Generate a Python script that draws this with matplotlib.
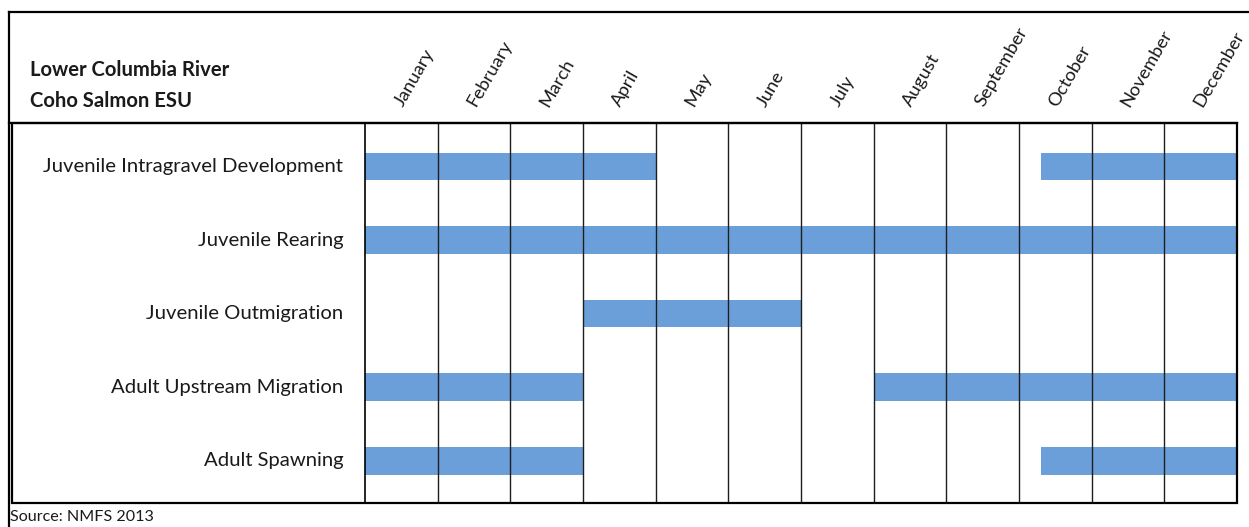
import matplotlib
matplotlib.use("Agg")
import matplotlib.pyplot as plt
from matplotlib.lines import Line2D
from matplotlib.patches import Rectangle

# ---------------- data ----------------
months = ["January", "February", "March", "April", "May", "June", "July",
          "August", "September", "October", "November", "December"]
stages = ["Juvenile Intragravel Development", "Juvenile Rearing",
          "Juvenile Outmigration", "Adult Upstream Migration", "Adult Spawning"]
# periods in month units (0 = start of January, 12 = end of December)
intragravel = [(0, 4), (9.3, 12)]
rearing = [(0, 12)]
outmigration = [(3, 6)]
upstream = [(0, 3), (7, 12)]
spawning = [(0, 3), (9.3, 12)]
periods = [intragravel, rearing, outmigration, upstream, spawning]
title_lines = ["Lower Columbia River", "Coho Salmon ESU"]
source = "Source: NMFS 2013"

# ---------------- layout ----------------
W, H = 1249, 527
fig = plt.figure(figsize=(W / 100, H / 100), dpi=100)
fig.patch.set_facecolor("white")

def fx(px):
    return px / W

def fy(py):
    return 1 - py / H

FONT = ["Lato", "DejaVu Sans"]
BAR = "#6a9fd9"
TXT = "#1a1a1a"

# month grid axes
gx0, gx1, gy0, gy1 = 365, 1237, 123, 503
ax = fig.add_axes([fx(gx0), fy(gy1), fx(gx1) - fx(gx0), fy(gy0) - fy(gy1)])
ax.set_xlim(0, 12)
ax.set_ylim(4.572, -0.591)
ax.axis("off")

for i, per in enumerate(periods):
    for s, e in per:
        ax.barh(i, e - s, left=s, height=0.375, color=BAR, edgecolor="none", zorder=2)

for k in range(1, 12):
    ax.axvline(k, color="#1e1e1e", lw=1.0, zorder=3)

for i, name in enumerate(stages):
    ax.text(-0.30, i, name, ha="right", va="center", fontsize=14.6,
            family=FONT, color=TXT, clip_on=False)

# month labels in header
for k, m in enumerate(months):
    ax.text(k + 0.46, -0.83, m, rotation=60, rotation_mode="anchor",
            ha="left", va="center", fontsize=13.3, family=FONT, color=TXT,
            clip_on=False)

# boxes and lines
lw_box = 1.6
fig.add_artist(Rectangle((fx(12), fy(gy1)), fx(gx1) - fx(12), fy(gy0) - fy(gy1),
                         transform=fig.transFigure, fill=False, lw=lw_box,
                         edgecolor="black", zorder=5))
fig.add_artist(Line2D([fx(gx0), fx(gx0)], [fy(gy0), fy(gy1)], color="black",
                      lw=1.2, zorder=5))
fig.add_artist(Line2D([fx(9), fx(gx1)], [fy(gy0), fy(gy0)], color="black",
                      lw=lw_box, zorder=5))
# outer frame (top and left)
fig.add_artist(Line2D([fx(9), fx(W)], [fy(12), fy(12)], color="black",
                      lw=lw_box, zorder=5))
fig.add_artist(Line2D([fx(9), fx(9)], [fy(12), fy(H)], color="black",
                      lw=lw_box, zorder=5))

# title
fig.text(fx(30), fy(70), title_lines[0], ha="left", va="center", fontsize=14.6,
         fontweight="bold", family=FONT, color=TXT)
fig.text(fx(30), fy(101), title_lines[1], ha="left", va="center", fontsize=14.6,
         fontweight="bold", family=FONT, color=TXT)

# source
fig.text(fx(10), fy(517), source, ha="left", va="center", fontsize=11.6,
         family=FONT, color=TXT)

fig.savefig("out.png", dpi=100, facecolor="white")
